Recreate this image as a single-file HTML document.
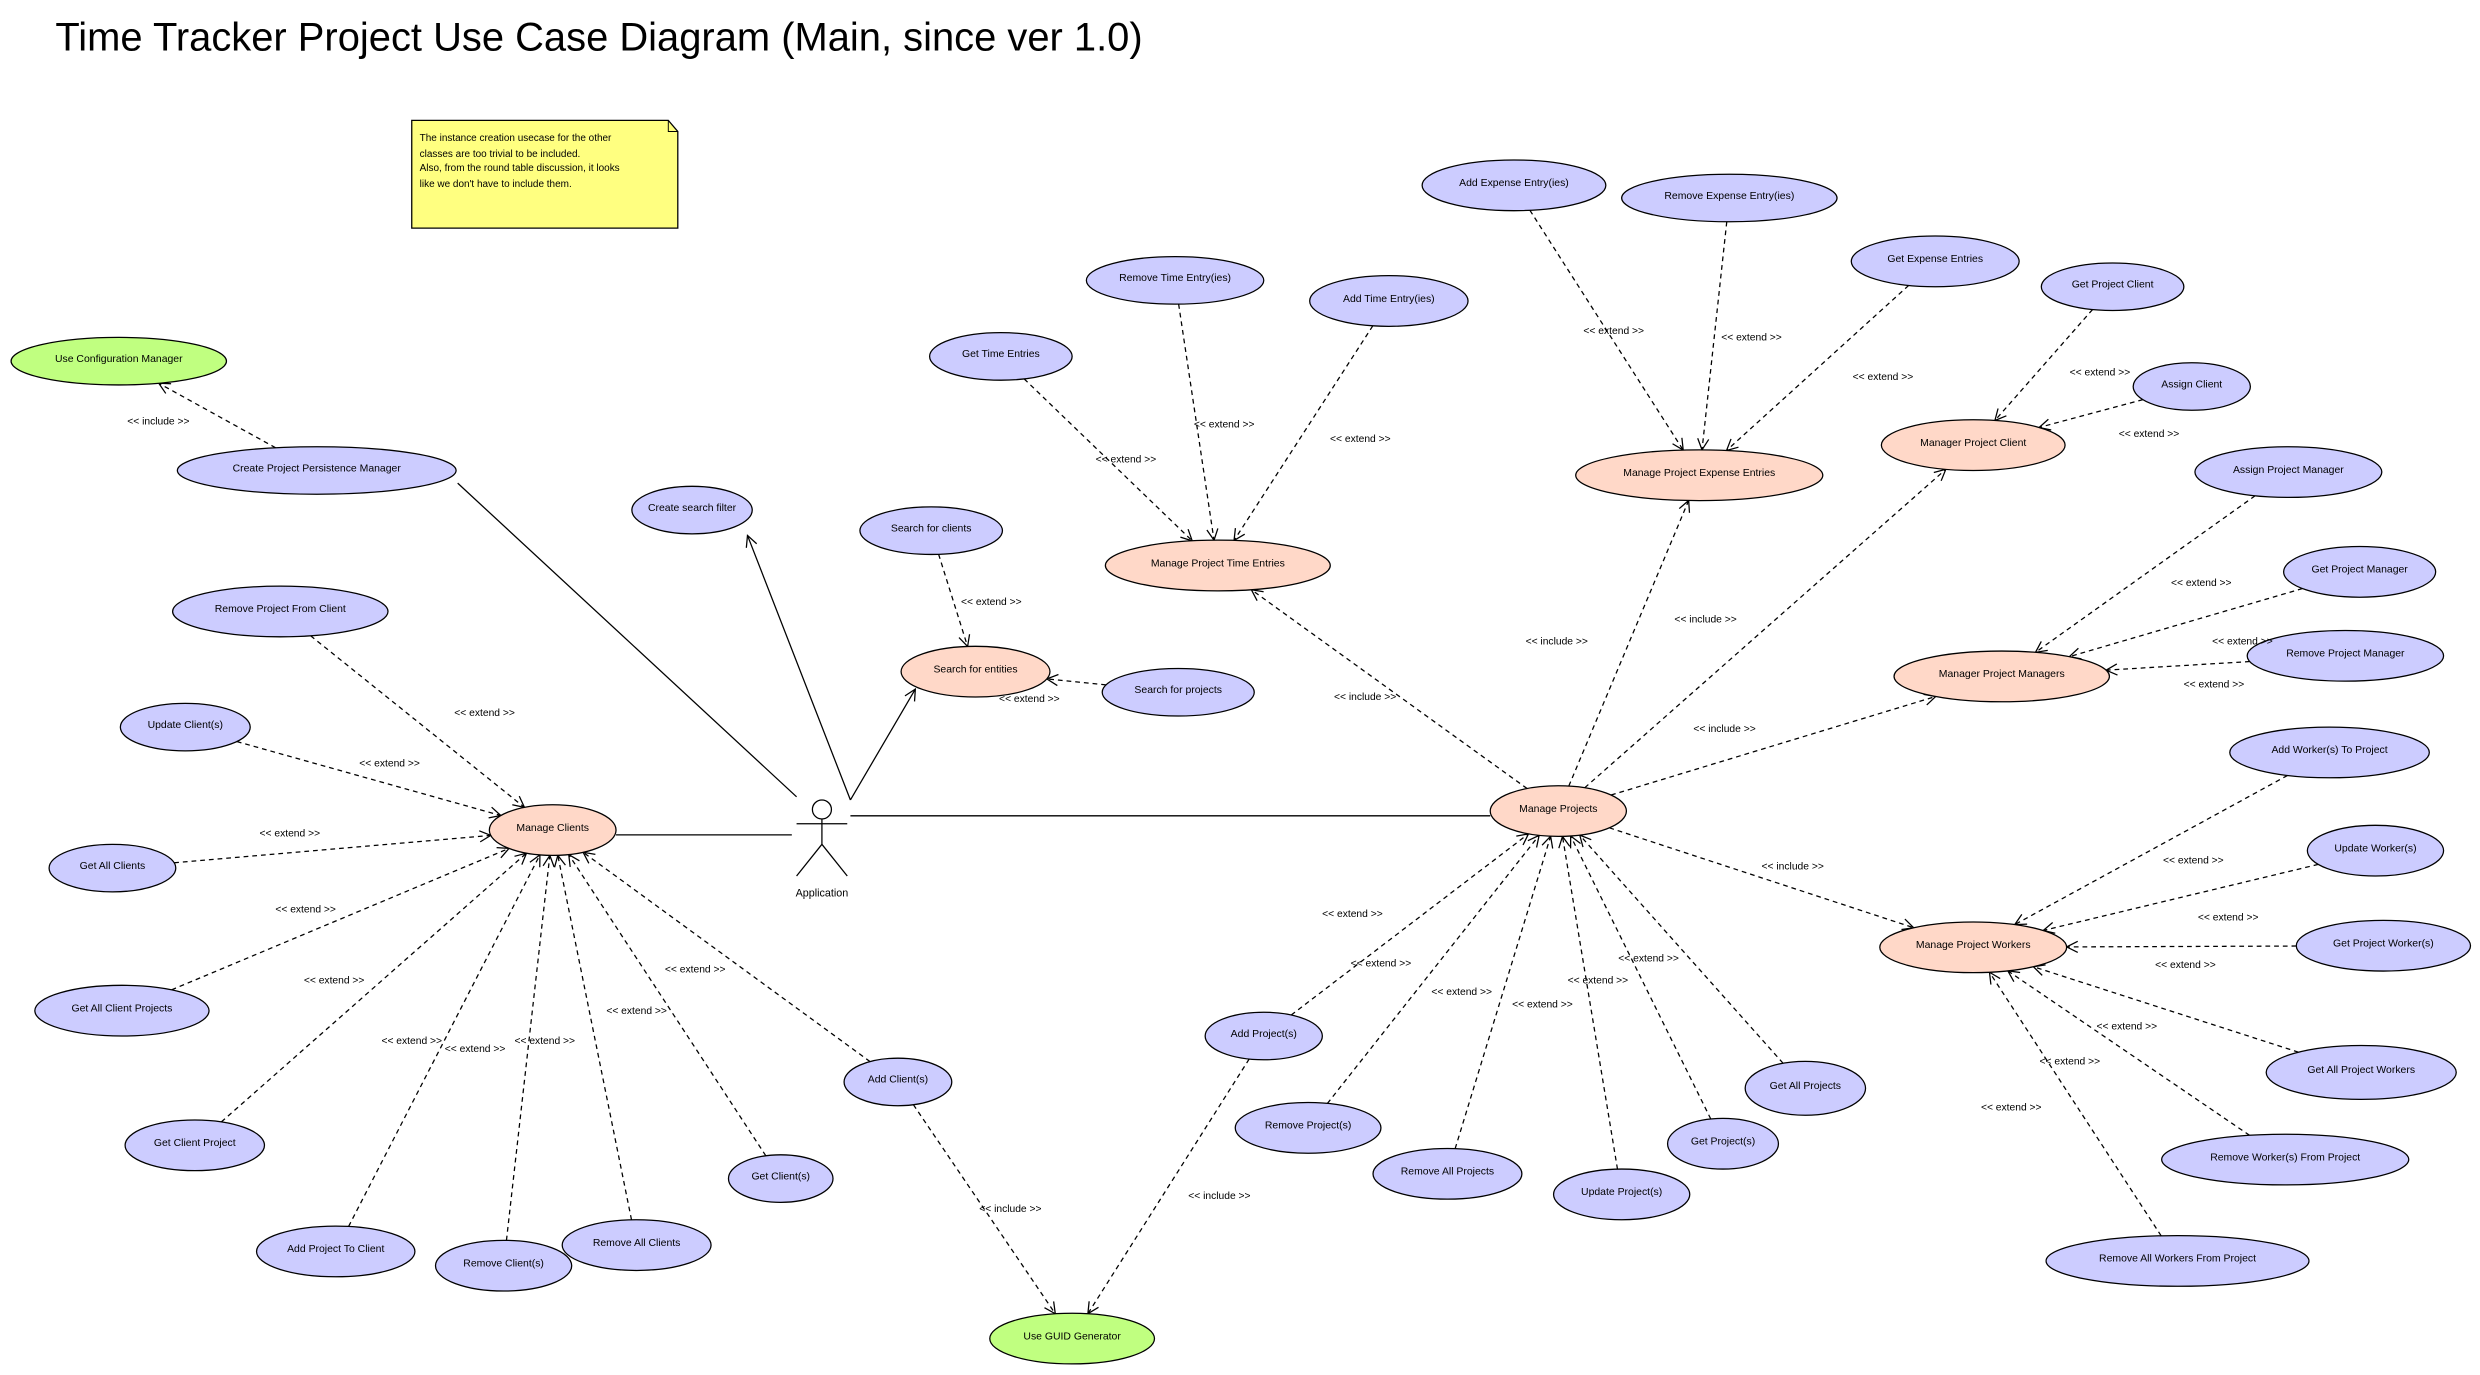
<!DOCTYPE html>
<html><head><meta charset="utf-8"><style>
html,body{margin:0;padding:0;background:#fff;}
svg{display:block;}
text{font-family:"Liberation Sans",sans-serif;}
</style></head><body>
<svg id="s" width="2480" height="1375" viewBox="0 0 1566 868" preserveAspectRatio="none" xmlns="http://www.w3.org/2000/svg">
<text x="35" y="32" font-size="25.2" fill="#000">Time Tracker Project Use Case Diagram (Main, since ver 1.0)</text>
<polygon points="260,76 422,76 428,83 428,144 260,144" fill="#ffff80" stroke="#000" stroke-width="0.8"/>
<polyline points="422,76 422,83 428,83" fill="none" stroke="#000" stroke-width="0.6"/>
<text font-size="6.3" fill="#000"><tspan x="265" y="89">The instance creation usecase for the other</tspan><tspan x="265" y="99">classes are too trivial to be included.</tspan><tspan x="265" y="108">Also, from the round table discussion, it looks</tspan><tspan x="265" y="118">like we don't have to include them.</tspan></text>
<g id="edges"></g>
<g id="nodes"></g>
<g id="labels" font-size="6.5" fill="#000" text-anchor="middle"></g>
<g stroke="#000" stroke-width="0.8" fill="none">
<circle cx="519" cy="511" r="6"/>
<line x1="519" y1="517" x2="519" y2="533"/>
<line x1="503" y1="520" x2="535" y2="520"/>
<line x1="519" y1="533" x2="503" y2="553"/>
<line x1="519" y1="533" x2="535" y2="553"/>
</g>
<text x="519" y="566" font-size="6.8" text-anchor="middle">Application</text>
</svg>
<script>
var NS="http://www.w3.org/2000/svg";
var B="#ccccff",S="#ffd8c8",G="#c0ff80";
var N={
UCM:["Use Configuration Manager",75,228,68,15,G],
CPPM:["Create Project Persistence Manager",200,297,88,15,B],
CSF:["Create search filter",437,322,38,15,B],
SFC:["Search for clients",588,335,45,15,B],
SFE:["Search for entities",616,424,47,16,S],
SFP:["Search for projects",744,437,48,15,B],
RPFC:["Remove Project From Client",177,386,68,16,B],
UC:["Update Client(s)",117,459,41,15,B],
GAC:["Get All Clients",71,548,40,15,B],
GACP:["Get All Client Projects",77,638,55,16,B],
GCP:["Get Client Project",123,723,44,16,B],
APTC:["Add Project To Client",212,790,50,16,B],
RC:["Remove Client(s)",318,799,43,16,B],
RAC:["Remove All Clients",402,786,47,16,B],
GC:["Get Client(s)",493,744,33,15,B],
AC:["Add Client(s)",567,683,34,15,B],
MC:["Manage Clients",349,524,40,16,S],
GTE:["Get Time Entries",632,225,45,15,B],
RTE:["Remove Time Entry(ies)",742,177,56,15,B],
ATE:["Add Time Entry(ies)",877,190,50,16,B],
MPTE:["Manage Project Time Entries",769,357,71,16,S],
AEE:["Add Expense Entry(ies)",956,117,58,16,B],
REE:["Remove Expense Entry(ies)",1092,125,68,15,B],
GEE:["Get Expense Entries",1222,165,53,16,B],
MPEE:["Manage Project Expense Entries",1073,300,78,16,S],
GPC:["Get Project Client",1334,181,45,15,B],
ACl:["Assign Client",1384,244,37,15,B],
MPC:["Manager Project Client",1246,281,58,16,S],
APM:["Assign Project Manager",1445,298,59,16,B],
GPM:["Get Project Manager",1490,361,48,16,B],
RPM:["Remove Project Manager",1481,414,62,16,B],
MPM:["Manager Project Managers",1264,427,68,16,S],
MP:["Manage Projects",984,512,43,16,S],
AWTP:["Add Worker(s) To Project",1471,475,63,16,B],
UW:["Update Worker(s)",1500,537,43,16,B],
GPW:["Get Project Worker(s)",1505,597,55,16,B],
GAPW:["Get All Project Workers",1491,677,60,17,B],
RWFP:["Remove Worker(s) From Project",1443,732,78,16,B],
RAWFP:["Remove All Workers From Project",1375,796,83,16,B],
MPW:["Manage Project Workers",1246,598,59,16,S],
AP:["Add Project(s)",798,654,37,15,B],
RP:["Remove Project(s)",826,712,46,16,B],
RAP:["Remove All Projects",914,741,47,16,B],
UP:["Update Project(s)",1024,754,43,16,B],
GP:["Get Project(s)",1088,722,35,16,B],
GAP:["Get All Projects",1140,687,38,17,B],
GUID:["Use GUID Generator",677,845,52,16,G]
};
function el(t,a,p){var e=document.createElementNS(NS,t);for(var k in a)e.setAttribute(k,a[k]);p.appendChild(e);return e;}
var nodes=document.getElementById("nodes"),edges=document.getElementById("edges"),labels=document.getElementById("labels");
for(var k in N){var n=N[k];el("ellipse",{cx:n[1],cy:n[2],rx:n[3],ry:n[4],fill:n[5],stroke:"#000","stroke-width":0.8},nodes);
var t=el("text",{x:n[1],y:n[2]+0.5,"font-size":6.6,"text-anchor":"middle"},nodes);t.textContent=n[0];}
function bnd(n,dx,dy){var a=n[3],b=n[4];var t=1/Math.sqrt(dx*dx/(a*a)+dy*dy/(b*b));return [n[1]+dx*t,n[2]+dy*t];}
function arrowHead(x,y,ux,uy){var L=7,w=3.5;var bx=x-ux*L,by=y-uy*L;
el("polyline",{points:(bx-uy*w)+","+(by+ux*w)+" "+x+","+y+" "+(bx+uy*w)+","+(by-ux*w),fill:"none",stroke:"#000","stroke-width":0.8},edges);}
function dep(s,t){var a=N[s],b=N[t];var dx=b[1]-a[1],dy=b[2]-a[2];var p=bnd(a,dx,dy),q=bnd(b,-dx,-dy);
el("line",{x1:p[0],y1:p[1],x2:q[0],y2:q[1],stroke:"#000","stroke-width":0.8,"stroke-dasharray":"3,2.5"},edges);
var L=Math.hypot(q[0]-p[0],q[1]-p[1]);arrowHead(q[0],q[1],(q[0]-p[0])/L,(q[1]-p[1])/L);}
function sol(x1,y1,x2,y2,arr){el("line",{x1:x1,y1:y1,x2:x2,y2:y2,stroke:"#000","stroke-width":0.8},edges);
if(arr){var L=Math.hypot(x2-x1,y2-y1);arrowHead(x2,y2,(x2-x1)/L,(y2-y1)/L);}}
sol(289,305,503,503);sol(537,505,472,338,1);sol(537,505,578,435,1);sol(389,527,500,527);sol(537,515,941,515);
[["CPPM","UCM"],["SFC","SFE"],["SFP","SFE"],
["RPFC","MC"],["UC","MC"],["GAC","MC"],["GACP","MC"],["GCP","MC"],["APTC","MC"],["RC","MC"],["RAC","MC"],["GC","MC"],["AC","MC"],
["GTE","MPTE"],["RTE","MPTE"],["ATE","MPTE"],["AEE","MPEE"],["REE","MPEE"],["GEE","MPEE"],["GPC","MPC"],["ACl","MPC"],
["APM","MPM"],["GPM","MPM"],["RPM","MPM"],["AWTP","MPW"],["UW","MPW"],["GPW","MPW"],["GAPW","MPW"],["RWFP","MPW"],["RAWFP","MPW"],
["AP","MP"],["RP","MP"],["RAP","MP"],["UP","MP"],["GP","MP"],["GAP","MP"],
["MP","MPTE"],["MP","MPEE"],["MP","MPC"],["MP","MPM"],["MP","MPW"],["AC","GUID"],["AP","GUID"]].forEach(function(e){dep(e[0],e[1]);});
var inc=[[100,266],[983,405],[1077,391],[862,440],[1089,460],[1132,547],[638,763],[770,755]];
var ext=[[626,380],[650,441],[306,450],[246,482],[183,526],[193,574],[211,619],[260,657],[300,662],[344,657],[402,638],[439,612],
[711,290],[773,268],[859,277],[1019,209],[1106,213],[1189,238],[1326,235],[1357,274],[1390,368],[1416,405],[1398,432],
[1385,543],[1407,579],[1380,609],[1343,648],[1307,670],[1270,699],[854,577],[872,608],[923,626],[974,634],[1009,619],[1041,605]];
inc.forEach(function(p){var t=el("text",{x:p[0],y:p[1]+2},labels);t.textContent="<<  include  >>";});
ext.forEach(function(p){var t=el("text",{x:p[0],y:p[1]+2},labels);t.textContent="<<  extend  >>";});
</script>
</body></html>
